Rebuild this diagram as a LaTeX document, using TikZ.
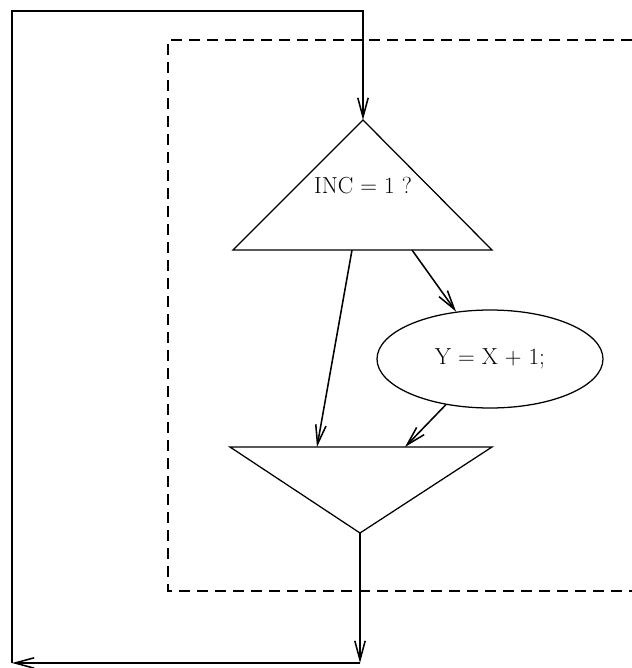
\documentclass[tikz,border=0pt]{standalone}
\usepackage{fontspec}
\usepackage{tikz}
\usetikzlibrary{arrows.meta,shapes.geometric}
\tikzset{
  flow/.style={line width=1.1pt, -{Straight Barb[length=4.8mm,width=2.6mm]}},
  shapeline/.style={line width=0.9pt},
  region/.style={line width=1.1pt, dash pattern=on 2.75mm off 1.75mm},
  stmt/.style={ellipse, draw, line width=0.9pt, minimum width=56.5mm, minimum height=24.5mm, inner sep=0pt},
}

\begin{document}
\begin{tikzpicture}[x=0.25mm,y=-0.25mm]

    \useasboundingbox (0,0) rectangle (632,668);
    \fontsize{16.5}{19}\selectfont

    % dashed region round the if-block
    \draw[region] (632,40) -- (168,40) -- (168,591) -- (632,591);

    % decision triangle
    \coordinate (test-top)   at (363,120);
    \coordinate (test-left)  at (233,250);
    \coordinate (test-right) at (492,250);
    \draw[shapeline] (test-top) -- (test-right) -- (test-left) -- cycle;
    \node (test) at (363,186) {INC = 1 ?};

    % then-branch
    \node[stmt] (incr) at (490,359) {Y = X + 1;};

    % join triangle
    \coordinate (join-left)  at (230,447);
    \coordinate (join-right) at (492,447);
    \coordinate (join-tip)   at (360,533);
    \draw[shapeline] (join-left) -- (join-right) -- (join-tip) -- cycle;

    % branches
    \coordinate (no-out)  at (352,250);
    \coordinate (no-in)   at (317,447);
    \coordinate (yes-out) at (412,250);
    \coordinate (yes-in)  at (405,447);
    \draw[flow] (no-out) -- (no-in);
    \draw[flow] (yes-out) -- (incr);
    \draw[flow] (incr) -- (yes-in);

    % loop back
    \coordinate (exit)    at (360,663);
    \coordinate (back-sw) at (12,663);
    \coordinate (back-nw) at (12,11);
    \coordinate (back-ne) at (363,11);
    \draw[flow] (join-tip) -- (exit);
    \draw[flow] (exit) -- (back-sw);
    \draw[flow] (back-sw) -- (back-nw) -- (back-ne) -- (test-top);

\end{tikzpicture}
\end{document}
